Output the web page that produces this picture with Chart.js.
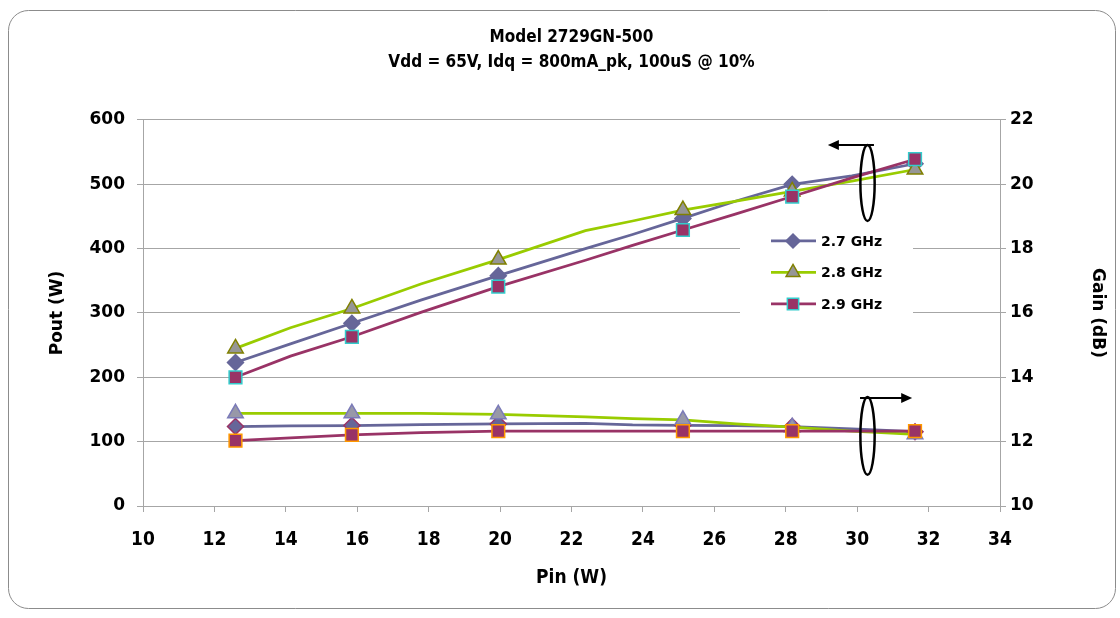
<!DOCTYPE html>
<html><head><meta charset="utf-8">
<script src="https://cdn.jsdelivr.net/npm/chart.js@4.4.1/dist/chart.umd.min.js"></script>
<style>html,body{margin:0;padding:0;background:#fff;} canvas{display:block}</style>
</head><body>
<canvas id="c" width="1120" height="618"></canvas>
<script>
// ---- data ----
const pinW = [12.59, 14.13, 15.85, 17.78, 19.95, 22.39, 23.71, 25.12, 26.61, 28.18, 29.85, 31.62];
const markerIdx = [0, 2, 4, 7, 9, 11];
const seriesNames = ['2.7 GHz', '2.8 GHz', '2.9 GHz'];
const pout27 = [223, 252, 284, 320, 358, 400, 422, 447, 474, 500, 513, 532];
const pout28 = [245, 277, 307, 345, 383, 428, 443, 460, 474, 489, 505, 523];
const pout29 = [200, 233, 263, 301, 341, 382, 405, 429, 454, 481, 510, 539];
const gain27 = [12.47, 12.49, 12.50, 12.53, 12.55, 12.57, 12.52, 12.51, 12.50, 12.47, 12.40, 12.31];
const gain28 = [12.88, 12.88, 12.88, 12.88, 12.85, 12.77, 12.72, 12.68, 12.55, 12.45, 12.33, 12.23];
const gain29 = [12.03, 12.12, 12.21, 12.28, 12.33, 12.33, 12.33, 12.33, 12.33, 12.33, 12.33, 12.33];
const xTicks = [10, 12, 14, 16, 18, 20, 22, 24, 26, 28, 30, 32, 34];
const poutTicks = [0, 100, 200, 300, 400, 500, 600];
const gainTicks = [10, 12, 14, 16, 18, 20, 22];
const titleLines = ['Model 2729GN-500', 'Vdd = 65V, Idq = 800mA_pk, 100uS @ 10%'];

const C27 = '#666699', C28 = '#99CC00', C29 = '#993366';
const TICK = "'DejaVu Sans', Verdana, sans-serif";
const NARROW = "'Liberation Sans Narrow', 'DejaVu Sans Condensed', Arial, sans-serif";

function pts(vals) { return pinW.map((x, i) => ({x, y: vals[i]})); }
function radii(r) { return pinW.map((_, i) => markerIdx.includes(i) ? r : 0); }

function ds(label, vals, axis, color, style, r, fill, border, order) {
  return {
    label, data: pts(vals), yAxisID: axis, borderColor: color, borderWidth: 2.75,
    pointStyle: style, pointRadius: radii(r), pointHoverRadius: radii(r),
    pointBackgroundColor: fill, pointBorderColor: border, pointBorderWidth: 1.5,
    tension: 0, fill: false, order
  };
}

const datasets = [
  ds(seriesNames[0], pout27, 'y', C27, 'rectRot', 8, C27, C27, 6),
  ds(seriesNames[1], pout28, 'y', C28, 'triangle', 9, '#969696', '#808000', 5),
  ds(seriesNames[2], pout29, 'y', C29, 'rect', 9, C29, '#33CCCC', 4),
  ds(seriesNames[0] + ' gain', gain27, 'y2', C27, 'rectRot', 8, C27, C29, 3),
  ds(seriesNames[1] + ' gain', gain28, 'y2', C28, 'triangle', 9, '#9898a8', '#7b7bb8', 2),
  ds(seriesNames[2] + ' gain', gain29, 'y2', C29, 'rect', 9, C29, '#FF9900', 1),
];

// annotation positions in data units
const ann = {
  e1: {x: 30.29, y: 502, rx: 0.2, ry: 59, axis: 'y'},
  a1: {x0: 30.47, x1: 29.18, y: 561, axis: 'y'},
  e2: {x: 30.29, y: 12.18, rx: 0.2, ry: 1.21, axis: 'y2'},
  a2: {x0: 30.08, x1: 31.54, y: 13.36, axis: 'y2'},
};

function drawMarker(ctx, style, r, fill, border, x, y) {
  ctx.save();
  ctx.fillStyle = fill; ctx.strokeStyle = border; ctx.lineWidth = 1.5;
  ctx.beginPath();
  if (style === 'rect') { const s = r * Math.SQRT1_2; ctx.rect(x - s, y - s, 2 * s, 2 * s); }
  else if (style === 'rectRot') { ctx.moveTo(x, y - r); ctx.lineTo(x + r, y); ctx.lineTo(x, y + r); ctx.lineTo(x - r, y); ctx.closePath(); }
  else if (style === 'triangle') {
    for (let k = 0; k < 3; k++) { const a = k * 2 * Math.PI / 3; const px = x + Math.sin(a) * r, py = y - Math.cos(a) * r; k ? ctx.lineTo(px, py) : ctx.moveTo(px, py); }
    ctx.closePath();
  }
  ctx.fill(); ctx.stroke(); ctx.restore();
}

const framePlugin = {
  id: 'frame',
  beforeDraw(chart) {
    const ctx = chart.ctx; ctx.save();
    ctx.fillStyle = '#fff'; ctx.fillRect(0, 0, chart.width, chart.height);
    ctx.strokeStyle = '#8c8c8c'; ctx.lineWidth = 1;
    ctx.beginPath(); ctx.roundRect(8.5, 10.5, 1107, 598, 20); ctx.stroke();
    ctx.restore();
  }
};

const legendPlugin = {
  id: 'innerLegend',
  beforeDatasetsDraw(chart) {
    const ctx = chart.ctx; const a = chart.chartArea;
    const bx = a.left + 597, by = a.top + 102;
    ctx.save();
    ctx.fillStyle = '#fff'; ctx.fillRect(bx, by, 173, 96);
    for (let i = 0; i < 3; i++) {
      const d = chart.data.datasets[i];
      const y = by + 19 + i * 31.5;
      ctx.strokeStyle = d.borderColor; ctx.lineWidth = 2.75;
      ctx.beginPath(); ctx.moveTo(bx + 31, y); ctx.lineTo(bx + 76, y); ctx.stroke();
      drawMarker(ctx, d.pointStyle, i === 0 ? 7 : 8, d.pointBackgroundColor, d.pointBorderColor, bx + 53, y);
      ctx.fillStyle = '#000'; ctx.font = "bold 14px " + TICK; ctx.textBaseline = 'middle'; ctx.textAlign = 'left';
      ctx.fillText(d.label, bx + 81, y + 1);
    }
    ctx.restore();
  }
};

const annotPlugin = {
  id: 'annot',
  afterDatasetsDraw(chart) {
    const ctx = chart.ctx, X = chart.scales.x;
    ctx.save(); ctx.strokeStyle = '#000'; ctx.fillStyle = '#000'; ctx.lineWidth = 2.5;
    for (const e of [ann.e1, ann.e2]) {
      const Y = chart.scales[e.axis];
      const cx = X.getPixelForValue(e.x), cy = Y.getPixelForValue(e.y);
      const rx = X.getPixelForValue(e.x + e.rx) - cx, ry = cy - Y.getPixelForValue(e.y + e.ry);
      ctx.beginPath(); ctx.ellipse(cx, cy, rx, ry, 0, 0, Math.PI * 2); ctx.stroke();
    }
    ctx.lineWidth = 2;
    for (const r of [ann.a1, ann.a2]) {
      const Y = chart.scales[r.axis];
      const x0 = X.getPixelForValue(r.x0), x1 = X.getPixelForValue(r.x1), y = Y.getPixelForValue(r.y);
      const dir = Math.sign(x1 - x0);
      ctx.beginPath(); ctx.moveTo(x0, y); ctx.lineTo(x1 - dir * 8, y); ctx.stroke();
      ctx.beginPath(); ctx.moveTo(x1, y); ctx.lineTo(x1 - dir * 11, y - 5); ctx.lineTo(x1 - dir * 11, y + 5); ctx.closePath(); ctx.fill();
    }
    ctx.restore();
  }
};

const gridColor = '#a6a6a6';
new Chart(document.getElementById('c'), {
  type: 'line',
  data: { datasets },
  plugins: [framePlugin, legendPlugin, annotPlugin],
  options: {
    responsive: false, animation: false, devicePixelRatio: 1,
    layout: { padding: { left: 23, right: 0, top: 0, bottom: 0 } },
    plugins: {
      legend: { display: false }, tooltip: { enabled: false },
      title: { display: true, text: titleLines, color: '#000',
        font: { family: NARROW, size: 17, weight: 'bold', lineHeight: 1.47 },
        padding: { top: 25, bottom: 45 } }
    },
    scales: {
      x: { type: 'linear', min: 10, max: 34,
        afterBuildTicks: s => { s.ticks = xTicks.map(v => ({value: v})); },
        afterFit: s => { s.height = 112; },
        ticks: { color: '#000', font: { family: NARROW, size: 19, weight: 'bold' }, padding: 17 },
        grid: { drawOnChartArea: false, drawTicks: true, tickLength: 6, color: gridColor },
        border: { color: gridColor },
        title: { display: true, text: 'Pin (W)', color: '#000', font: { family: NARROW, size: 19, weight: 'bold' }, padding: { bottom: 29 } } },
      y: { position: 'left', min: 0, max: 600,
        afterBuildTicks: s => { s.ticks = poutTicks.map(v => ({value: v})); },
        afterFit: s => { s.width = 120; },
        ticks: { color: '#000', font: { family: TICK, size: 17, weight: 'bold' }, padding: 12 },
        grid: { color: gridColor, tickLength: 6 },
        border: { color: gridColor },
        title: { display: true, text: 'Pout (W)', color: '#000', font: { family: TICK, size: 17, weight: 'bold' }, padding: { top: 24 } } },
      y2: { position: 'right', min: 10, max: 22,
        afterBuildTicks: s => { s.ticks = gainTicks.map(v => ({value: v})); },
        afterFit: s => { s.width = 120; },
        ticks: { color: '#000', font: { family: TICK, size: 17, weight: 'bold' }, padding: 4 },
        grid: { drawOnChartArea: false, color: gridColor, tickLength: 6 },
        border: { color: gridColor },
        title: { display: true, text: 'Gain (dB)', color: '#000', font: { family: TICK, size: 17, weight: 'bold' }, padding: { top: 12 } } }
    }
  }
});
</script>
</body></html>
